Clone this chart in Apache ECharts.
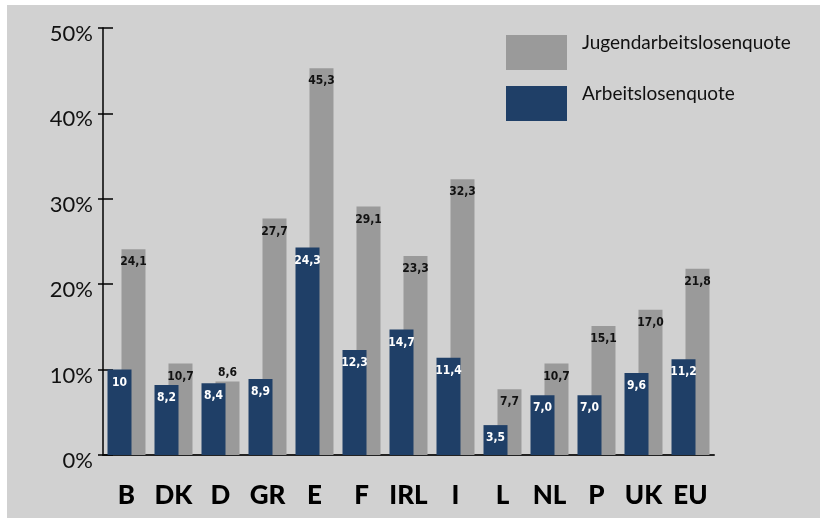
<!DOCTYPE html>
<html>
<head>
<meta charset="utf-8">
<script src="https://cdn.jsdelivr.net/npm/echarts@6/dist/echarts.min.js"></script>
<style>
  html, body { margin: 0; padding: 0; background: #ffffff; }
  #chart { position: absolute; left: 7px; top: 5px; width: 813px; height: 513px; }
</style>
</head>
<body>
<div id="chart"></div>
<script>
// Länderkürzel
const countries = ['B', 'DK', 'D', 'GR', 'E', 'F', 'IRL', 'I', 'L', 'NL', 'P', 'UK', 'EU'];
// Arbeitslosenquote in % (wie in der Quelltabelle notiert)
const arbeitslosenquote = ['10', '8.2', '8.4', '8.9', '24.3', '12.3', '14.7', '11.4', '3.5', '7.0', '7.0', '9.6', '11.2'];
// Jugendarbeitslosenquote in %
const jugendquote = ['24.1', '10.7', '8.6', '27.7', '45.3', '29.1', '23.3', '32.3', '7.7', '10.7', '15.1', '17.0', '21.8'];
// Achsenbeschriftung
const yTicks = [0, 10, 20, 30, 40, 50];

const BLUE = '#1f3f67';
const GREY = '#9a9a9a';
const BG = '#d1d1d1';

const raw = d => (d !== null && typeof d === 'object') ? d.value : d;
const fmt = p => String(raw(p.data)).replace('.', ',');
const valueFont = "'Liberation Sans Narrow', 'DejaVu Sans Condensed', sans-serif";

const chart = echarts.init(document.getElementById('chart'), null, { renderer: 'canvas' });
chart.setOption({
  backgroundColor: BG,
  animation: false,
  legend: {
    data: ['Jugendarbeitslosenquote', 'Arbeitslosenquote'],
    orient: 'vertical',
    left: 494,
    top: 23,
    itemWidth: 61,
    itemHeight: 35,
    itemGap: 14,
    icon: 'rect',
    selectedMode: false,
    formatter: name => '{t|' + name + '}',
    textStyle: {
      rich: {
        t: {
          fontFamily: 'Lato, sans-serif',
          fontSize: 19,
          color: '#111',
          padding: [0, 0, 20, 10]
        }
      }
    }
  },
  grid: { left: 96, right: 106, top: 23, bottom: 63 },
  xAxis: {
    type: 'category',
    data: countries,
    axisLine: { lineStyle: { color: '#222', width: 2 } },
    axisTick: { show: false },
    axisLabel: {
      interval: 0,
      fontFamily: 'Lato, sans-serif',
      fontWeight: 900,
      fontSize: 26,
      color: '#000',
      margin: 28
    }
  },
  yAxis: [
    {
      type: 'value',
      min: yTicks[0],
      max: yTicks[yTicks.length - 1],
      interval: 10,
      splitLine: { show: false },
      axisLine: { show: true, lineStyle: { color: '#000', width: 1.5 } },
      axisTick: { show: true, inside: true, length: 10, lineStyle: { color: '#000', width: 1.5 } },
      axisLabel: {
        margin: 10,
        formatter: v => '{n|' + v + '%}',
        rich: {
          n: {
            fontFamily: 'Lato, sans-serif',
            fontSize: 22,
            color: '#111',
            padding: [12, 0, 0, 0]
          }
        }
      }
    },
    {
      type: 'value',
      position: 'left',
      min: yTicks[0],
      max: yTicks[yTicks.length - 1],
      interval: 10,
      splitLine: { show: false },
      axisLine: { show: false },
      axisTick: { show: true, inside: false, length: 5, lineStyle: { color: '#000', width: 1.5 } },
      axisLabel: { show: false }
    }
  ],
  series: [
    {
      name: 'Arbeitslosenquote',
      type: 'bar',
      data: arbeitslosenquote,
      barWidth: 24,
      barGap: '-41.7%',
      z: 3,
      itemStyle: { color: BLUE },
      label: {
        show: true,
        position: 'insideTop',
        distance: 7,
        color: '#fff',
        fontFamily: valueFont,
        fontWeight: 'bold',
        fontSize: 12,
        formatter: fmt
      }
    },
    {
      name: 'Jugendarbeitslosenquote',
      type: 'bar',
      data: jugendquote.map((v, i) => countries[i] === 'D'
        ? { value: v, label: { position: 'top', distance: 3 } }
        : v),
      barWidth: 24,
      z: 2,
      itemStyle: { color: GREY },
      label: {
        show: true,
        position: 'insideTop',
        distance: 7,
        color: '#111',
        fontFamily: valueFont,
        fontWeight: 'bold',
        fontSize: 12,
        formatter: fmt
      }
    }
  ]
});
</script>
</body>
</html>
